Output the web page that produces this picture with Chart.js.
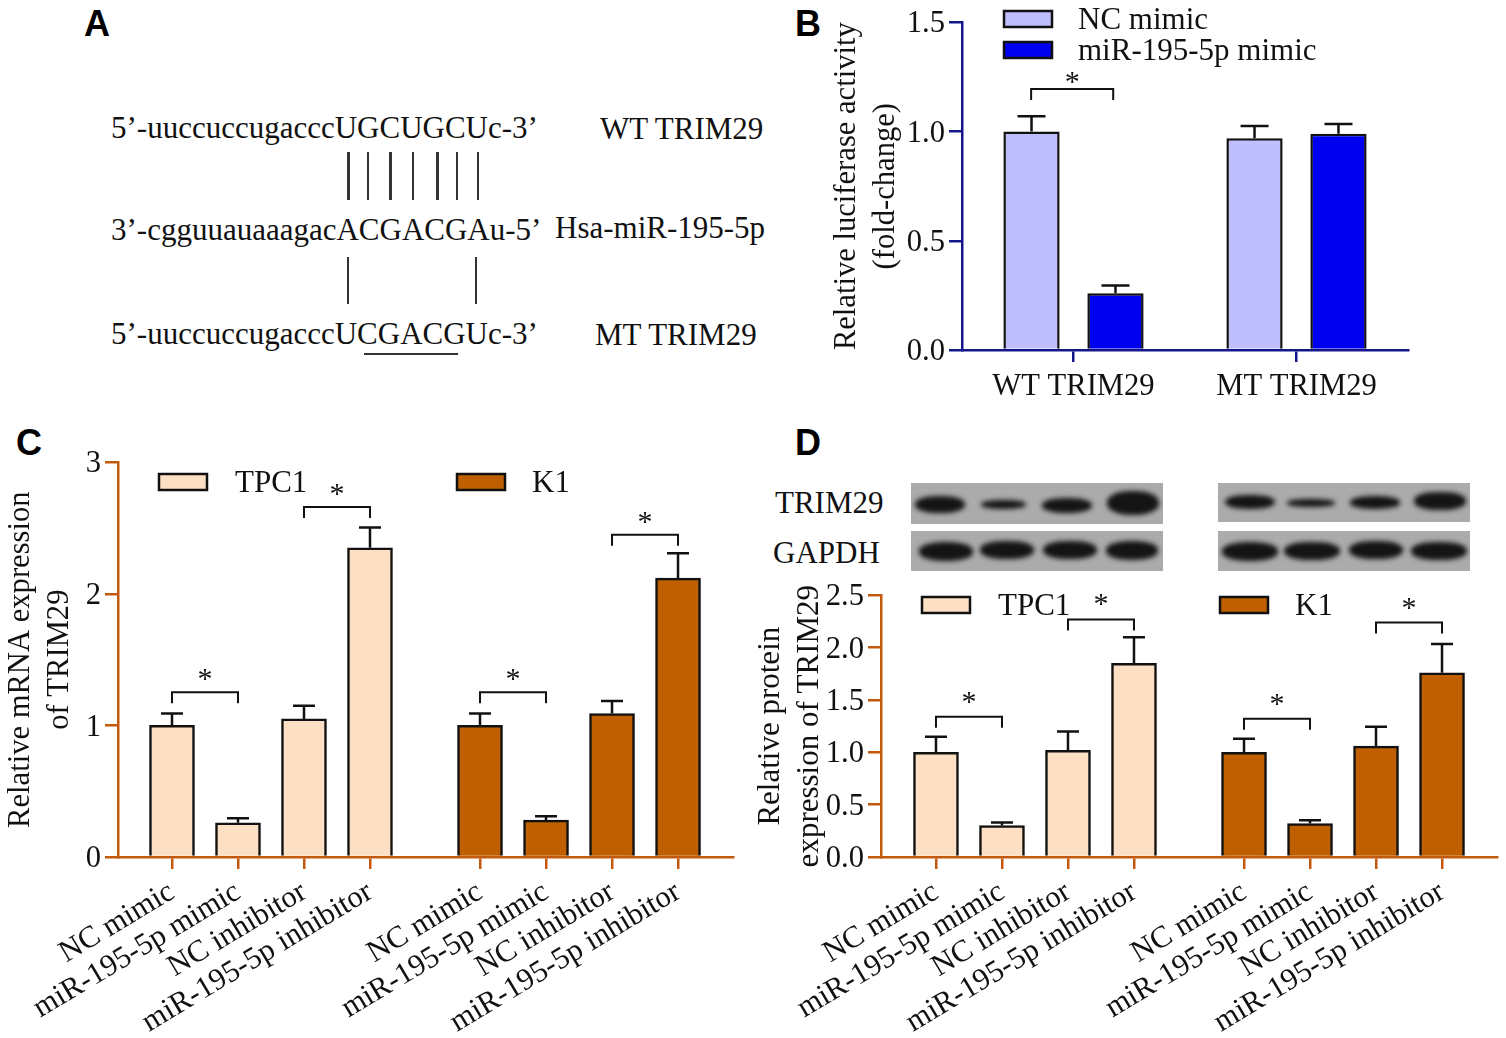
<!DOCTYPE html>
<html>
<head>
<meta charset="utf-8">
<title>TRIM29 figure</title>
<script src="https://cdn.jsdelivr.net/npm/chart.js@4/dist/chart.umd.min.js"></script>
<style>
html, body { margin: 0; padding: 0; background: #fff; }
#page { position: relative; width: 1506px; height: 1038px; overflow: hidden; font-family: "Liberation Serif", serif; color: #111; }
#page canvas { position: absolute; }
.txt { position: absolute; white-space: nowrap; transform: translateY(-50%); font-size: 31px; line-height: 1.2; }
.letter { position: absolute; font: bold 36px "Liberation Sans", sans-serif; transform: translateY(-50%); color: #000; }
.pair, .under { position: absolute; background: #333; }
.blot { position: absolute; background: #ababab; overflow: hidden; }
.band { position: absolute; background: #141414; border-radius: 45%; filter: blur(2.5px); }
</style>
</head>
<body>
<div id="page">
  <div class="letter" style="left:84px;top:24px">A</div>
  <div class="letter" style="left:795px;top:24px">B</div>
  <div class="letter" style="left:16px;top:443px">C</div>
  <div class="letter" style="left:795px;top:443px">D</div>

  <div class="txt" style="left:111px;top:128px">5’-uuccuccugacccUGCUGCUc-3’</div>
  <div class="txt" style="left:111px;top:230px">3’-cgguuauaaagacACGACGAu-5’</div>
  <div class="txt" style="left:111px;top:334px">5’-uuccuccugacccUCGACGUc-3’</div>
  <div class="txt" style="left:600px;top:129px">WT TRIM29</div>
  <div class="txt" style="left:555px;top:228px">Hsa-miR-195-5p</div>
  <div class="txt" style="left:595px;top:335px">MT TRIM29</div>
  <div class="under" style="left:364px;top:353px;width:94px;height:2px"></div>

  <div class="txt" style="left:775px;top:503px">TRIM29</div>
  <div class="txt" style="left:773px;top:553px">GAPDH</div>

  <canvas id="chartB" style="left:825px;top:0"></canvas>
  <canvas id="chartC" style="left:0;top:440px"></canvas>
  <canvas id="chartD" style="left:745px;top:573px"></canvas>
</div>

<script>
// panel B values
var groupsB = ['WT TRIM29', 'MT TRIM29'];
var ncMimicB = [1.0, 0.97];
var miRMimicB = [0.26, 0.99];
var ncMimicErrB = [0.07, 0.055];
var miRMimicErrB = [0.035, 0.045];

// panels C and D share the same treatments
var treatments = ['NC mimic', 'miR-195-5p mimic', 'NC inhibitor', 'miR-195-5p inhibitor'];
var slotsTPC1 = [0, 1, 2, 3];
var slotsK1 = [4.667, 5.667, 6.667, 7.667];

// panel C values
var tpc1C = [1.0, 0.26, 1.05, 2.35];
var tpc1ErrC = [0.09, 0.035, 0.10, 0.155];
var k1C = [1.0, 0.28, 1.09, 2.12];
var k1ErrC = [0.09, 0.03, 0.095, 0.19];

// panel D values
var tpc1D = [1.0, 0.30, 1.02, 1.85];
var tpc1ErrD = [0.15, 0.03, 0.18, 0.25];
var k1D = [1.0, 0.32, 1.06, 1.76];
var k1ErrD = [0.13, 0.03, 0.185, 0.275];

// significance brackets: from x, to x, height in y units
var bracketsB = [[-0.19, 0.178, 1.195]];
var bracketsC = [[0, 1, 1.253], [2, 3, 2.66], [4.667, 5.667, 1.253], [6.667, 7.667, 2.45]];
var bracketsD = [[0, 1, 1.34], [2, 3, 2.27], [4.667, 5.667, 1.32], [6.667, 7.667, 2.24]];

var PEACH = '#fde0c4', BROWN = '#c05f00', LILAC = '#bfbfff', BLUE = '#0000f0';
var ORANGE_AXIS = '#c2590c', NAVY_AXIS = '#16168c';
var LINE = 2.5;

Chart.defaults.font.family = '"Liberation Serif", serif';
Chart.defaults.font.size = 30.6;
Chart.defaults.color = '#111';
Chart.defaults.animation = false;

// error bars, brackets and the little legends
var panelDecor = {
  id: 'panelDecor',
  afterDatasetsDraw: function(chart, args, opts) {
    var ctx = chart.ctx, x = chart.scales.x, y = chart.scales.y;
    ctx.save();
    ctx.strokeStyle = '#111';
    ctx.lineWidth = LINE;

    chart.data.datasets.forEach(function(ds, i) {
      chart.getDatasetMeta(i).data.forEach(function(bar, j) {
        var top = y.getPixelForValue(ds.errors[j] + (ds.data[j].y !== undefined ? ds.data[j].y : ds.data[j]));
        ctx.beginPath();
        ctx.moveTo(bar.x, bar.y);
        ctx.lineTo(bar.x, top);
        ctx.moveTo(bar.x - opts.cap, top);
        ctx.lineTo(bar.x + opts.cap, top);
        ctx.stroke();
      });
    });

    ctx.fillStyle = '#111';
    ctx.textAlign = 'center';
    ctx.textBaseline = 'alphabetic';
    opts.brackets.forEach(function(b) {
      var x0 = opts.bracketX(x, b[0]), x1 = opts.bracketX(x, b[1]), top = y.getPixelForValue(b[2]);
      ctx.lineWidth = 2;
      ctx.beginPath();
      ctx.moveTo(x0, top + 11);
      ctx.lineTo(x0, top);
      ctx.lineTo(x1, top);
      ctx.lineTo(x1, top + 11);
      ctx.stroke();
      ctx.font = '30px "Liberation Serif", serif';
      ctx.fillText('*', (x0 + x1) / 2, top - opts.starLift);
    });

    ctx.lineWidth = LINE;
    ctx.textAlign = 'left';
    ctx.textBaseline = 'middle';
    ctx.font = '31px "Liberation Serif", serif';
    opts.legend.forEach(function(item) {
      var ds = chart.data.datasets[item.dataset];
      ctx.fillStyle = ds.backgroundColor;
      ctx.fillRect(item.x, item.y - 8, 48, 16);
      ctx.strokeRect(item.x, item.y - 8, 48, 16);
      ctx.fillStyle = '#111';
      ctx.fillText(ds.label, item.textX, item.y + item.textDrop);
    });
    ctx.restore();
  }
};

function yAxis(color, max, step, digits, title, width, titlePad, titleSize) {
  return {
    min: 0, max: max,
    afterFit: function(scale) { scale.width = width; },
    border: { color: color, width: LINE },
    grid: { drawOnChartArea: false, color: color, lineWidth: LINE, tickLength: 13 },
    ticks: {
      stepSize: step, padding: 4, color: '#111', labelOffset: 2,
      callback: function(v) { return v.toFixed(digits); }
    },
    title: { display: true, text: title, color: '#111', font: { size: titleSize, lineHeight: 1.27 }, padding: { top: titlePad, bottom: 0 } }
  };
}

function makeChart(id, w, h, config) {
  var c = document.getElementById(id);
  c.width = w;
  c.height = h;
  return new Chart(c, config);
}

// panel B
makeChart('chartB', 600, 410, {
  type: 'bar',
  data: {
    labels: groupsB,
    datasets: [
      { label: 'NC mimic', data: ncMimicB, errors: ncMimicErrB, backgroundColor: LILAC, borderColor: '#111', borderWidth: LINE, categoryPercentage: 0.753, barPercentage: 0.67 },
      { label: 'miR-195-5p mimic', data: miRMimicB, errors: miRMimicErrB, backgroundColor: BLUE, borderColor: '#111', borderWidth: LINE, categoryPercentage: 0.753, barPercentage: 0.67 }
    ]
  },
  plugins: [panelDecor],
  options: {
    responsive: false,
    layout: { padding: { top: 21, right: 17, left: 0, bottom: 0 } },
    plugins: {
      legend: { display: false },
      tooltip: { enabled: false },
      panelDecor: {
        cap: 14,
        starLift: -2,
        brackets: bracketsB,
        bracketX: function(x, v) { return x.getPixelForValue(0) + v * x.width / 2; },
        legend: [{ dataset: 0, x: 179, y: 19, textX: 253, textDrop: 2 }, { dataset: 1, x: 179, y: 50, textX: 253, textDrop: 2 }]
      }
    },
    scales: {
      x: {
        afterFit: function(scale) { scale.height = 60; },
        border: { color: NAVY_AXIS, width: LINE, z: 1 },
        grid: { offset: false, drawOnChartArea: false, color: NAVY_AXIS, lineWidth: LINE, tickLength: 12 },
        ticks: { padding: 7, color: '#111', maxRotation: 0 }
      },
      y: yAxis(NAVY_AXIS, 1.5, 0.5, 1, ['Relative luciferase activity', '(fold-change)'], 137, 3, 30.6)
    }
  }
});

function points(slots, values) {
  return slots.map(function(s, i) { return { x: s, y: values[i] }; });
}

function fourByTwoChart(id, w, h, cfg) {
  var allSlots = slotsTPC1.concat(slotsK1);
  return makeChart(id, w, h, {
    type: 'bar',
    data: {
      datasets: [
        { label: 'TPC1', data: points(slotsTPC1, cfg.tpc1), errors: cfg.tpc1Err, backgroundColor: PEACH, borderColor: '#111', borderWidth: LINE, barThickness: 45, grouped: false },
        { label: 'K1', data: points(slotsK1, cfg.k1), errors: cfg.k1Err, backgroundColor: BROWN, borderColor: '#111', borderWidth: LINE, barThickness: 45, grouped: false }
      ]
    },
    plugins: [panelDecor],
    options: {
      responsive: false,
      layout: { padding: { top: cfg.top, right: cfg.right, left: 0, bottom: 0 } },
      plugins: {
        legend: { display: false },
        tooltip: { enabled: false },
        panelDecor: {
          cap: 11,
          starLift: cfg.starLift,
          brackets: cfg.brackets,
          bracketX: function(x, v) { return x.getPixelForValue(v); },
          legend: cfg.legend
        }
      },
      scales: {
        x: {
          type: 'linear', offset: false, min: cfg.xMin, max: 8.5,
          afterBuildTicks: function(scale) {
            scale.ticks = allSlots.map(function(s) { return { value: s }; });
          },
          afterFit: function(scale) { scale.height = cfg.xHeight; },
          border: { color: ORANGE_AXIS, width: LINE, z: 1 },
          grid: { offset: false, drawOnChartArea: false, color: ORANGE_AXIS, lineWidth: LINE, tickLength: 12 },
          ticks: {
            autoSkip: false, minRotation: 31, maxRotation: 31, padding: 5, color: '#111',
            callback: function(v, i) { return treatments[i % 4]; }
          }
        },
        y: yAxis(ORANGE_AXIS, cfg.yMax, cfg.yStep, cfg.digits, cfg.title, cfg.yWidth, cfg.titlePad, cfg.titleSize)
      }
    }
  });
}

// panel C
fourByTwoChart('chartC', 745, 598, {
  tpc1: tpc1C, tpc1Err: tpc1ErrC, k1: k1C, k1Err: k1ErrC, brackets: bracketsC,
  top: 22, right: 12, xMin: -0.818, xHeight: 181, yWidth: 118, titlePad: 2, titleSize: 30.6, starLift: 4,
  yMax: 3, yStep: 1, digits: 0,
  title: ['Relative mRNA expression', 'of TRIM29'],
  legend: [{ dataset: 0, x: 159, y: 42, textX: 235, textDrop: 2 }, { dataset: 1, x: 457, y: 42, textX: 532, textDrop: 2 }]
});

// panel D
fourByTwoChart('chartD', 761, 465, {
  tpc1: tpc1D, tpc1Err: tpc1ErrD, k1: k1D, k1Err: k1ErrD, brackets: bracketsD,
  top: 21, right: 9, xMin: -0.833, xHeight: 181, yWidth: 136, titlePad: 6, titleSize: 31, starLift: 6,
  yMax: 2.5, yStep: 0.5, digits: 1,
  title: ['Relative protein', 'expression of TRIM29'],
  legend: [{ dataset: 0, x: 177, y: 32, textX: 253, textDrop: 2 }, { dataset: 1, x: 475, y: 32, textX: 550, textDrop: 2 }]
});

// panel A pairing ticks and the blots are just page furniture
var page = document.getElementById('page');
function addBox(cls, left, top, width, height, parent) {
  var d = document.createElement('div');
  d.className = cls;
  d.style.cssText = 'left:' + left + 'px;top:' + top + 'px;width:' + width + 'px;height:' + height + 'px';
  (parent || page).appendChild(d);
  return d;
}
[[348, 3], [368, 1.5], [390, 3], [413, 1.5], [437, 3], [457, 1.5], [478, 1.5]].forEach(function(p) {
  addBox('pair', p[0] - p[1] / 2, 152, p[1], 48);
});
[348, 476].forEach(function(x) { addBox('pair', x - 0.75, 257, 1.5, 47); });

var blots = [
  { x: 911, y: 483, w: 252, h: 41, bands: [[29, 21, 50, 17], [92, 21, 45, 9], [156, 22, 50, 15], [222, 20, 52, 24]] },
  { x: 911, y: 531, w: 252, h: 40, bands: [[35, 20, 54, 19], [96, 19, 54, 18], [159, 19, 54, 18], [221, 19, 52, 19]] },
  { x: 1218, y: 483, w: 252, h: 39, bands: [[32, 19, 50, 14], [93, 20, 48, 8], [157, 19, 50, 13], [222, 18, 52, 18]] },
  { x: 1218, y: 531, w: 252, h: 40, bands: [[32, 20, 56, 19], [94, 20, 56, 18], [158, 19, 54, 18], [221, 20, 56, 18]] }
];
blots.forEach(function(b) {
  var box = addBox('blot', b.x, b.y, b.w, b.h);
  b.bands.forEach(function(s) {
    addBox('band', s[0] - s[2] / 2, s[1] - s[3] / 2, s[2], s[3], box);
  });
});
</script>
</body>
</html>
